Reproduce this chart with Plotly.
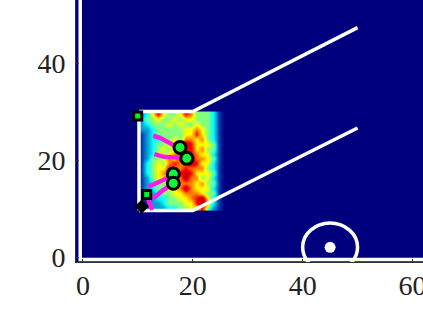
import plotly.graph_objects as go

heat_rows_top_down = [
    [3, 4, 6, 8, 6, 5, 5, 6, 8, 7, 5, 5, 5, 4, 2, 0],
    [3, 5, 5, 6, 5, 5, 6, 5, 6, 6, 5, 5, 5, 4, 2, 0],
    [3, 4, 5, 5, 5, 6, 5, 6, 5, 5, 6, 5, 5, 4, 2, 0],
    [3, 3, 4, 5, 5, 5, 5, 5, 6, 6, 7, 6, 5, 4, 2, 0],
    [2, 3, 4, 5, 5, 5, 5, 5, 6, 6, 8, 6, 5, 4, 2, 0],
    [2, 3, 4, 4, 5, 5, 6, 5, 7, 7, 6, 7, 5, 4, 2, 0],
    [2, 3, 4, 5, 5, 6, 6, 7, 9, 8, 6, 6, 6, 5, 2, 0],
    [2, 3, 4, 5, 6, 5, 6, 7, 8, 8, 6, 7, 5, 5, 2, 0],
    [2, 3, 4, 6, 5, 6, 7, 7, 7, 8, 7, 6, 6, 4, 2, 0],
    [2, 3, 5, 5, 6, 7, 6, 8, 8, 9, 7, 7, 6, 5, 2, 0],
    [2, 4, 5, 6, 5, 7, 8, 7, 7, 9, 8, 6, 6, 4, 2, 0],
    [2, 4, 5, 6, 6, 8, 7, 7, 8, 7, 7, 7, 5, 4, 2, 0],
    [2, 4, 5, 6, 7, 7, 7, 8, 9, 8, 6, 6, 6, 5, 2, 0],
    [2, 3, 5, 6, 6, 7, 6, 7, 9, 7, 7, 5, 6, 4, 2, 0],
    [2, 3, 4, 5, 5, 6, 6, 7, 7, 7, 6, 7, 5, 5, 2, 0],
    [2, 3, 4, 5, 5, 6, 6, 7, 9, 7, 6, 6, 6, 4, 2, 0],
    [1, 3, 3, 4, 5, 5, 6, 6, 7, 7, 7, 6, 5, 5, 2, 0],
    [1, 2, 3, 4, 4, 5, 5, 6, 6, 7, 8, 9, 6, 4, 2, 0],
    [1, 2, 3, 3, 4, 5, 5, 5, 6, 6, 8, 9, 7, 4, 2, 0],
    [1, 2, 3, 3, 3, 4, 4, 5, 5, 6, 6, 8, 5, 3, 2, 0],
]
heat_z = heat_rows_top_down[::-1]

frame_x = [-0.5, -0.5, 75]
frame_y = [60, -0.5, -0.5]
upper_x = [10.2, 20, 50]
upper_y = [30, 30, 47.3]
lower_x = [10.2, 20, 50]
lower_y = [9.6, 9.6, 26.6]
side_x = [10.2, 10.2]
side_y = [9.6, 30]
spot_x = [45]
spot_y = [2]

trails = [
    ([12.8, 14.0, 16.45, 17.67], [25.0, 24.6, 23.1, 22.6]),
    ([13.0, 14.6, 18.9], [21.2, 20.7, 20.35]),
    ([11.9, 15.2, 16.45], [14.5, 16.2, 17.1]),
    ([12.8, 14.6, 16.45], [12.1, 13.8, 15.2]),
    ([12.6, 11.9, 11.6], [9.7, 12.1, 12.9]),
]
circ_x = [17.67, 18.9, 16.45, 16.45]
circ_y = [22.6, 20.35, 17.1, 15.2]
sq_x = [9.96, 11.6]
sq_y = [29.1, 12.9]
dia_x = [10.7]
dia_y = [10.4]

fig = go.Figure()
fig.add_trace(go.Heatmap(x0=10.7, dx=1, y0=10.11, dy=1.02, z=heat_z, zsmooth="best", zmin=0, zmax=10,
                         colorscale="Jet", showscale=False, hoverinfo="skip"))
white = dict(color="white", width=3.5)
for xs, ys in [(frame_x, frame_y), (upper_x, upper_y), (lower_x, lower_y), (side_x, side_y)]:
    fig.add_trace(go.Scatter(x=xs, y=ys, mode="lines", line=white))
fig.add_trace(go.Scatter(x=spot_x, y=spot_y, mode="markers",
                         marker=dict(color="white", size=11)))
for xs, ys in trails:
    fig.add_trace(go.Scatter(x=xs, y=ys, mode="lines", line=dict(color="#ff19e6", width=4.5)))
fig.add_trace(go.Scatter(x=dia_x, y=dia_y, mode="markers",
                         marker=dict(symbol="diamond", color="black", size=11)))
fig.add_trace(go.Scatter(x=sq_x, y=sq_y, mode="markers",
                         marker=dict(symbol="square", color="#00f028", size=8,
                                     line=dict(color="black", width=3))))
fig.add_trace(go.Scatter(x=circ_x, y=circ_y, mode="markers",
                         marker=dict(symbol="circle", color="#10f53c", size=12,
                                     line=dict(color="black", width=3))))

fig.add_shape(type="circle", xref="x", yref="y", x0=40, x1=50, y0=-3, y1=7,
              line=dict(color="white", width=3.5), layer="above")

axis = dict(showgrid=False, zeroline=False, showline=True, linecolor="#333333", linewidth=1,
            ticks="inside", ticklen=3, tickcolor="#333333", tickwidth=1, mirror=False,
            tickfont=dict(family="Liberation Serif", size=28, color="#222222"))
fig.update_layout(
    width=463, height=317, autosize=False, showlegend=False,
    margin=dict(l=76, r=0, t=0, b=55, pad=0),
    paper_bgcolor="white", plot_bgcolor="#00007f",
    xaxis=dict(range=[-1.27, 69.2], tickvals=[0, 20, 40, 60], ticklabelstandoff=-2, **axis),
    yaxis=dict(range=[-1.03, 53.0], tickvals=[0, 20, 40], ticklabelstandoff=4, **axis),
)
fig.write_html("out.html", config=dict(displayModeBar=False),
               post_script="document.body.style.margin='0';document.body.style.overflow='hidden';")
